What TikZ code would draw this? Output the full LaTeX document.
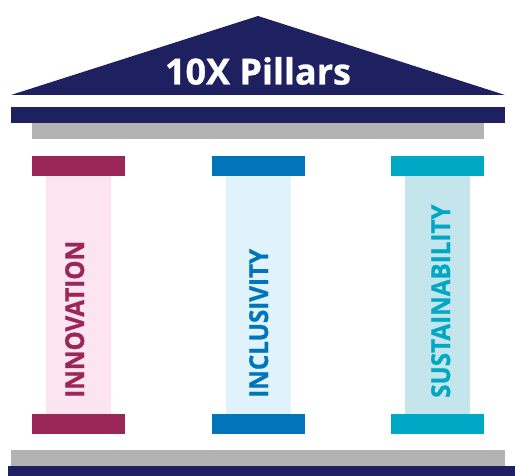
\documentclass[tikz,border=0pt]{standalone}
\usepackage{fontspec}
\setmainfont{Open Sans}[BoldFeatures={FakeBold=0.8}]
\definecolor{navy}{HTML}{1E2060}
\definecolor{greybar}{HTML}{B3B3B3}
\definecolor{magc}{HTML}{9B2759}
\definecolor{magl}{HTML}{FCE4F0}
\definecolor{bluc}{HTML}{0075BA}
\definecolor{blul}{HTML}{E0F2FC}
\definecolor{tealc}{HTML}{00A8C5}
\definecolor{teall}{HTML}{C5E5EC}
\begin{document}
\begin{tikzpicture}[x=1pt,y=-1pt,
  pillartext/.style={rotate=90,xscale=0.93,anchor=base west,inner sep=0pt,font=\bfseries\fontsize{26}{26}\selectfont}]
\useasboundingbox (0,0) rectangle (515,476);
% roof
\fill[navy] (11,95) -- (258,16) -- (505,95) -- cycle;
\node[text=white,font=\bfseries\fontsize{36}{36}\selectfont] (title) at (258,71) {10X Pillars};
% entablature
\fill[navy] (11,107) rectangle (505,123);
\fill[greybar] (32,123) rectangle (484,139);
% pillar 1
\fill[magl] (46,175) rectangle (111,414);
\fill[magc] (32,156) rectangle (125,176);
\fill[magc] (32,414) rectangle (125,434);
\node[pillartext,text=magc] (p1) at (84,398) {INNOVATION};
% pillar 2
\fill[blul] (226,175) rectangle (291,414);
\fill[bluc] (212,156) rectangle (305,176);
\fill[bluc] (212,414) rectangle (305,434);
\node[pillartext,text=bluc] (p2) at (268,398) {INCLUSIVITY};
% pillar 3
\fill[teall] (405,175) rectangle (470,414);
\fill[tealc] (391,156) rectangle (484,176);
\fill[tealc] (391,414) rectangle (484,434);
\node[pillartext,text=tealc] (p3) at (450,398) {SUSTAINABILITY};
% base
\fill[greybar] (11,450) rectangle (505,466);
\fill[navy] (8,466) rectangle (515,476);
\end{tikzpicture}
\end{document}
